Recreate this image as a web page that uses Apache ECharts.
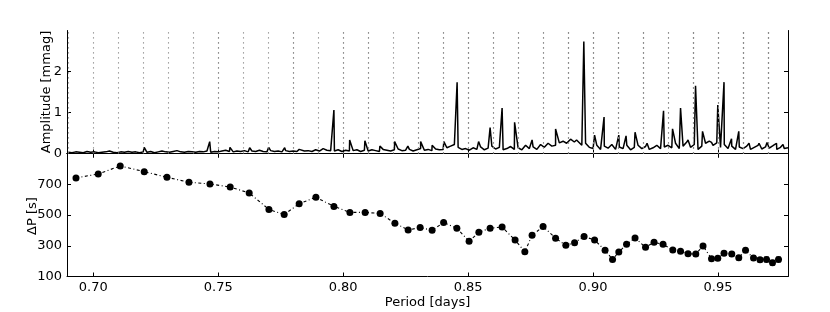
<!DOCTYPE html>
<html>
<head>
<meta charset="utf-8">
<script src="https://cdn.jsdelivr.net/npm/echarts@6/dist/echarts.min.js"></script>
<style>html,body{margin:0;padding:0;background:#fff}#c{width:830px;height:312px}</style>
</head>
<body>
<div id="c"></div>
<script>
// Mode periods (days) -- dotted lines in top panel
const modePeriods = [0.6931,0.7020,0.7108,0.7204,0.7295,0.7383,0.7467,0.7548,0.7624,0.7703,0.7764,0.7824,0.7891,0.7963,0.8027,0.8088,0.8148,0.8207,0.8260,0.8308,0.8356,0.8402,0.8455,0.8504,0.8543,0.8588,0.8636,0.8688,0.8727,0.8756,0.8800,0.8850,0.8891,0.8926,0.8964,0.9006,0.9048,0.9078,0.9103,0.9134,0.9168,0.9210,0.9244,0.9280,0.9319,0.9350,0.9380,0.9411,0.9440,0.9474,0.9499,0.9524,0.9555,0.9583,0.9610,0.9642,0.9668,0.9694,0.9718,0.9742,0.9766];
// Period spacing (s) for each mode except the last
const deltaP = [741,767,819,782,745,713,702,682,643,536,503,573,615,556,517,517,510,447,403,418,401,451,414,329,388,414,422,337,261,368,425,349,303,320,360,337,270,211,259,309,350,290,322,309,272,265,248,246,298,216,218,252,246,222,270,220,209,211,190,211];
// Error on period spacing (s)
const deltaPErr = [4,4,4,4,4,4,4,4,4,4,4,4,4,4,4,4,4,5,5,5,5,5,5,6,6,6,6,7,8,8,7,7,8,8,8,8,9,9,9,9,10,10,10,10,10,10,11,11,12,12,12,12,13,13,13,14,14,15,15,15];
// Periodogram peaks: period (days) and amplitude (mmag)
const peakPeriods = [0.7204,0.7466,0.7547,0.7626,0.7702,0.7766,0.7824,0.7896,0.7963,0.8026,0.8087,0.8147,0.8206,0.8259,0.8310,0.8356,0.8403,0.8456,0.8542,0.8588,0.8636,0.8686,0.8756,0.8850,0.8894,0.8934,0.8963,0.9006,0.9044,0.9103,0.9132,0.9168,0.9216,0.9282,0.9318,0.9350,0.9380,0.9410,0.9438,0.9474,0.9499,0.9524,0.9554,0.9583,0.9624,0.9664,0.9696,0.9734,0.9760];
const peakAmps = [0.15,0.29,0.15,0.14,0.15,0.14,0.10,0.10,1.06,0.33,0.31,0.18,0.29,0.18,0.29,0.20,0.29,1.74,0.29,0.63,1.11,0.76,0.33,0.60,0.25,0.33,2.73,0.45,0.89,0.45,0.43,0.52,0.25,1.04,0.60,1.11,0.33,1.65,0.54,0.27,1.18,1.74,0.36,0.54,0.25,0.25,0.27,0.25,0.22];
// Periodogram noise floor sampled every 0.0015 d from 0.690 d
const noiseStart = 0.690, noiseStep = 0.0015;
const noiseAmps = [
0.03,0.02,0.04,0.03,0.02,0.05,0.03,0.04,0.02,0.03,0.04,0.06,0.03,0.02,0.04,0.03,0.05,0.03,0.04,0.02,
0.04,0.03,0.05,0.02,0.04,0.06,0.04,0.03,0.05,0.07,0.04,0.03,0.05,0.04,0.03,0.05,0.04,0.06,0.03,0.05,
0.04,0.06,0.08,0.05,0.04,0.06,0.05,0.07,0.04,0.06,0.05,0.08,0.05,0.04,0.07,0.05,0.06,0.04,0.07,0.05,
0.06,0.05,0.08,0.06,0.07,0.05,0.09,0.06,0.12,0.08,0.07,0.06,0.09,0.05,0.08,0.06,0.07,0.09,0.05,0.08,
0.06,0.09,0.07,0.05,0.10,0.08,0.06,0.09,0.11,0.07,0.08,0.10,0.06,0.09,0.12,0.08,0.10,0.07,0.11,0.09,
0.10,0.14,0.18,0.22,0.15,0.10,0.12,0.08,0.14,0.10,0.16,0.09,0.13,0.18,0.11,0.15,0.09,0.12,0.17,0.10,
0.14,0.09,0.20,0.12,0.16,0.10,0.22,0.15,0.25,0.18,0.20,0.26,0.30,0.22,0.35,0.28,0.32,0.20,0.25,0.15,
0.12,0.20,0.10,0.18,0.13,0.22,0.10,0.16,0.12,0.20,0.09,0.15,0.20,0.12,0.17,0.10,0.14,0.20,0.12,0.16,
0.20,0.14,0.25,0.12,0.18,0.28,0.15,0.22,0.10,0.18,0.25,0.30,0.20,0.26,0.15,0.22,0.12,0.18,0.10,0.16,
0.12,0.18,0.10,0.15,0.20,0.11,0.16,0.13,0.19,0.10,0.15,0.12,0.14];
const xTicks = [0.70,0.75,0.80,0.85,0.90,0.95];
const ampTicks = [0,1,2];
const dpTicks = [100,300,500,700];

// build spectrum line
const spec = [];
noiseAmps.forEach((a,i)=>spec.push([+(noiseStart+i*noiseStep).toFixed(5), a]));
peakPeriods.forEach((p,i)=>spec.push([p, peakAmps[i]]));
spec.sort((a,b)=>a[0]-b[0]);
const dpData = deltaP.map((v,i)=>[modePeriods[i], v]);
const errData = deltaP.map((v,i)=>[modePeriods[i], v-deltaPErr[i], v+deltaPErr[i]]);

const FONT = 'DejaVu Sans';
const XMIN = 0.6895, XMAX = 0.978;
const axLine = {show:true, lineStyle:{color:'#000', width:1}};
const tick = (vals)=>({show:true, inside:true, length:4, lineStyle:{color:'#000'}, customValues: vals});
function xAx(grid, pos, labels){
  return {type:'value', gridIndex:grid, position:pos, min:XMIN, max:XMAX,
    axisLine:axLine, splitLine:{show:false},
    axisTick: tick(xTicks),
    axisLabel: labels ? {show:true, customValues:xTicks, margin:5, color:'#000', fontFamily:FONT, fontSize:13,
      formatter:v=>v.toFixed(2)} : {show:false},
    name: labels ? 'Period [days]' : '', nameLocation:'middle', nameGap:20, nameMoveOverlap:false,
    nameTextStyle:{color:'#000', fontFamily:FONT, fontSize:13}};
}
function yAx(grid, pos, min, max, ticks, labels){
  return {type:'value', gridIndex:grid, position:pos, min:min, max:max,
    axisLine:axLine, splitLine:{show:false},
    axisTick: tick(ticks),
    axisLabel: labels ? {show:true, customValues:ticks, margin:5, color:'#000', fontFamily:FONT, fontSize:13} : {show:false}};
}

const chart = echarts.init(document.getElementById('c'), null, {renderer:'canvas'});
chart.setOption({
  animation:false,
  backgroundColor:'#fff',
  grid:[
    {left:67, right:42, top:30.5, height:123},
    {left:67, right:42, top:153.5, height:123}
  ],
  xAxis:[ xAx(0,'bottom',false), xAx(0,'top',false), xAx(1,'bottom',true), xAx(1,'top',false) ],
  yAxis:[
    yAx(0,'left',0,3,ampTicks,true),
    yAx(0,'right',0,3,ampTicks,false),
    yAx(1,'left',100,900,dpTicks,true),
    yAx(1,'right',100,900,dpTicks,false)
  ],
  graphic:[
    {type:'text', x:47, y:92, rotation:Math.PI/2,
     style:{text:'Amplitude [mmag]', font:'13px "DejaVu Sans"', fill:'#000', align:'center', verticalAlign:'middle'}},
    {type:'text', x:33, y:216, rotation:Math.PI/2,
     style:{text:'ΔP [s]', font:'13px "DejaVu Sans"', fill:'#000', align:'center', verticalAlign:'middle'}}
  ],
  series:[
    {type:'line', xAxisIndex:0, yAxisIndex:0, data:spec, showSymbol:false, symbol:'none',
     lineStyle:{color:'#000', width:1.5}, clip:true, z:3,
     markLine:{silent:true, symbol:['none','none'], label:{show:false},
       lineStyle:{color:'#888', type:[1.3,3.7], width:1.1},
       data: modePeriods.map(p=>({xAxis:p}))}},
    {type:'custom', xAxisIndex:2, yAxisIndex:2, data:errData, z:2,
     renderItem:(params, api)=>{
       const lo = api.coord([api.value(0), api.value(1)]);
       const hi = api.coord([api.value(0), api.value(2)]);
       const st = {stroke:'#000', lineWidth:1};
       return {type:'group', children:[
         {type:'line', shape:{x1:lo[0], y1:lo[1], x2:hi[0], y2:hi[1]}, style:st},
         {type:'line', shape:{x1:lo[0]-2.5, y1:lo[1], x2:lo[0]+2.5, y2:lo[1]}, style:st},
         {type:'line', shape:{x1:hi[0]-2.5, y1:hi[1], x2:hi[0]+2.5, y2:hi[1]}, style:st}
       ]};
     }},
    {type:'line', xAxisIndex:2, yAxisIndex:2, data:dpData, symbol:'circle', symbolSize:7, z:3,
     itemStyle:{color:'#000'}, lineStyle:{color:'#000', width:1.1, type:[3,2.5,1,2.5]}}
  ]
});
</script>
</body>
</html>
